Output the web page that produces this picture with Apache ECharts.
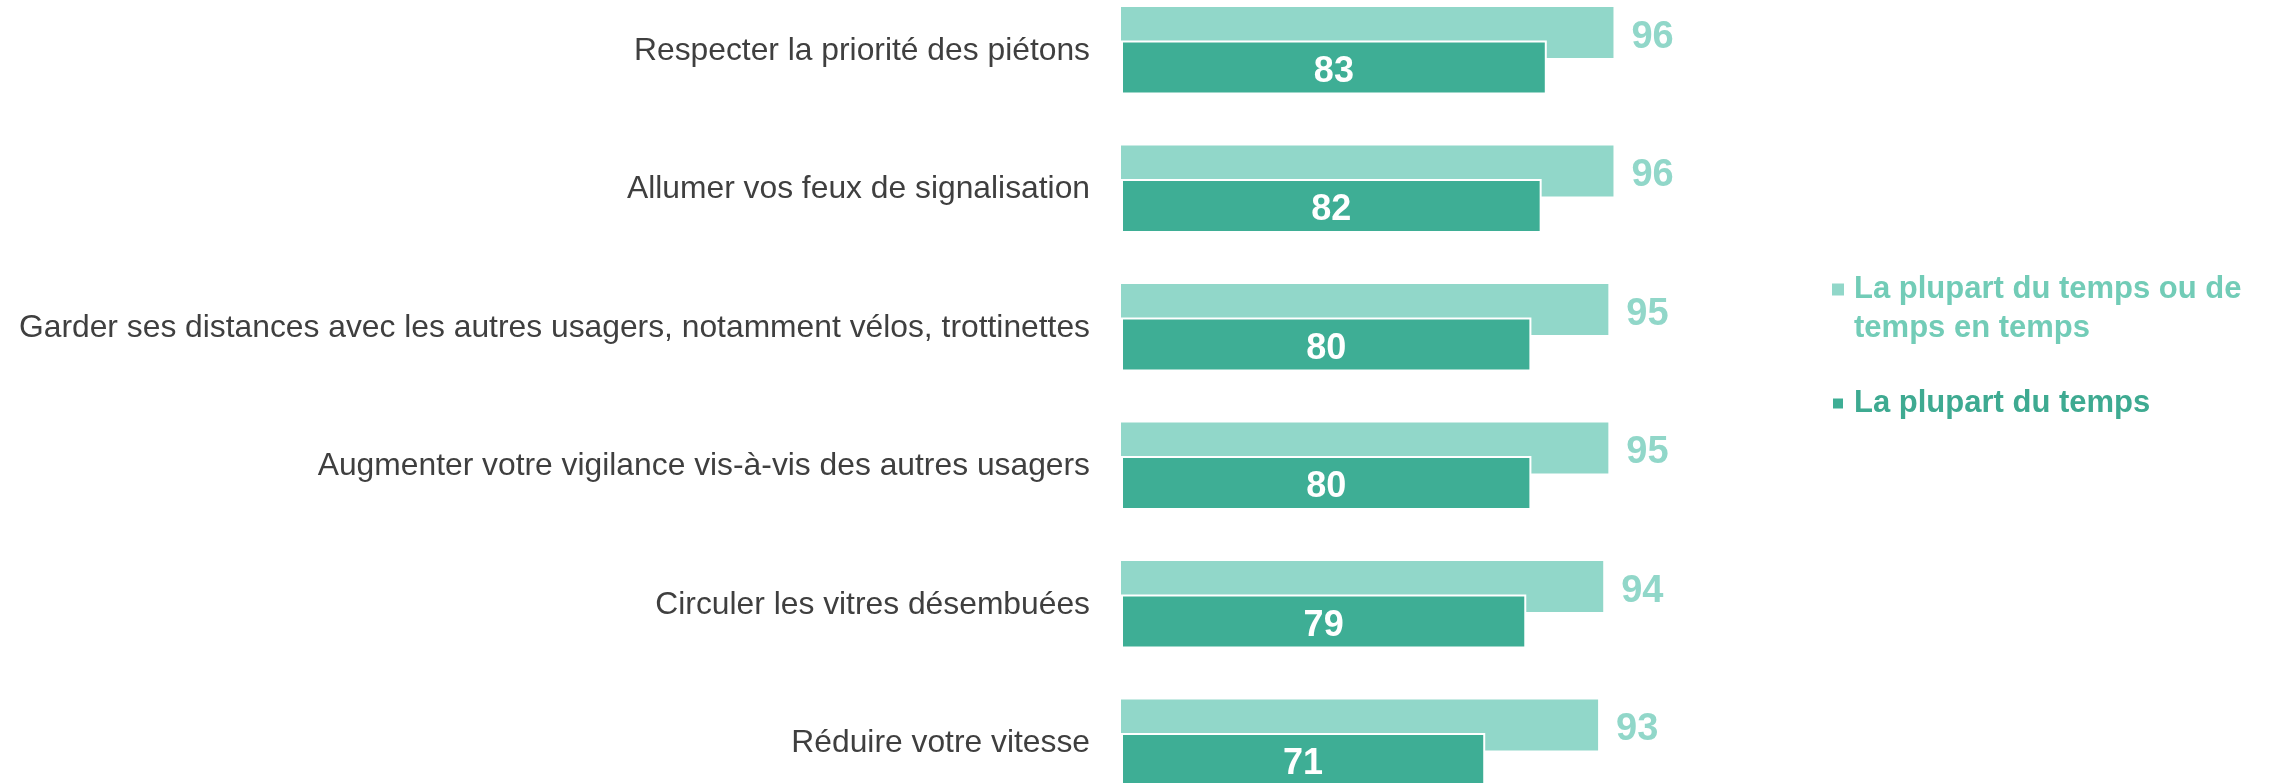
<!DOCTYPE html>
<html>
<head>
<meta charset="utf-8">
<script src="https://cdn.jsdelivr.net/npm/echarts@6/dist/echarts.min.js"></script>
<style>
  html, body { margin: 0; padding: 0; background: #fff; }
  #main { width: 2280px; height: 783px; }
</style>
</head>
<body>
<div id="main"></div>
<script>
// categories, top to bottom
var categories = [
    'Respecter la priorité des piétons',
    'Allumer vos feux de signalisation',
    'Garder ses distances avec les autres usagers, notamment vélos, trottinettes',
    'Augmenter votre vigilance vis-à-vis des autres usagers',
    'Circuler les vitres désembuées',
    'Réduire votre vitesse'
]
var seriesNames = ['La plupart du temps ou de temps en temps', 'La plupart du temps']
var souvent = [96, 96, 95, 95, 94, 93]
var plupart = [83, 82, 80, 80, 79, 71]

var lightColor = '#91d7c9'
var darkColor = '#3eae95'
var font = 'Liberation Sans, Arial, sans-serif'

var chart = echarts.init(document.getElementById('main'))

var option = {
    animation: false,
    grid: {
        left: 1121,
        width: 513,
        top: -18.5,
        height: 831,
        containLabel: false,
        outerBoundsMode: 'none'
    },
    legend: {
        left: 1831,
        top: 231,
        padding: 0,
        orient: 'vertical',
        icon: 'rect',
        itemWidth: 12,
        itemHeight: 12,
        itemGap: 36,
        selectedMode: false,
        // empty first line so the square sits on the first text line
        formatter: function (name) {
            if (name === seriesNames[0]) return '\nLa plupart du temps ou de\ntemps en temps'
            return name
        },
        textStyle: {
            fontFamily: font,
            fontSize: 31,
            fontWeight: 'bold',
            lineHeight: 39
        },
        data: [
            { name: seriesNames[0], textStyle: { color: '#72ccb7', padding: [0, 0, 0, 5] } },
            { name: seriesNames[1], textStyle: { color: '#3eaa91', padding: [0, 0, 0, 5] } }
        ]
    },
    xAxis: {
        type: 'value',
        min: 0,
        max: 100,
        show: false
    },
    yAxis: {
        type: 'category',
        inverse: true,
        data: categories,
        axisLine: { show: false },
        axisTick: { show: false },
        axisLabel: {
            margin: 31,
            padding: [6, 0, 0, 0],
            color: '#3f3f3f',
            fontSize: 31.8,
            fontFamily: font
        }
    },
    series: [
        {
            name: seriesNames[0],
            type: 'bar',
            barWidth: 51,
            barGap: '-34%',
            itemStyle: { color: lightColor },
            label: {
                show: true,
                position: 'right',
                distance: 18,
                offset: [0, 5],
                color: lightColor,
                fontSize: 38,
                fontWeight: 'bold',
                fontFamily: font
            },
            data: souvent
        },
        {
            name: seriesNames[1],
            type: 'bar',
            barWidth: 54,
            barGap: '-34%',
            z: 3,
            itemStyle: { color: darkColor, borderColor: '#fff', borderWidth: 2 },
            label: {
                show: true,
                position: 'inside',
                offset: [0, 4],
                color: '#fff',
                fontSize: 36,
                fontWeight: 'bold',
                fontFamily: font
            },
            data: plupart
        }
    ]
}

chart.setOption(option)
</script>
</body>
</html>
